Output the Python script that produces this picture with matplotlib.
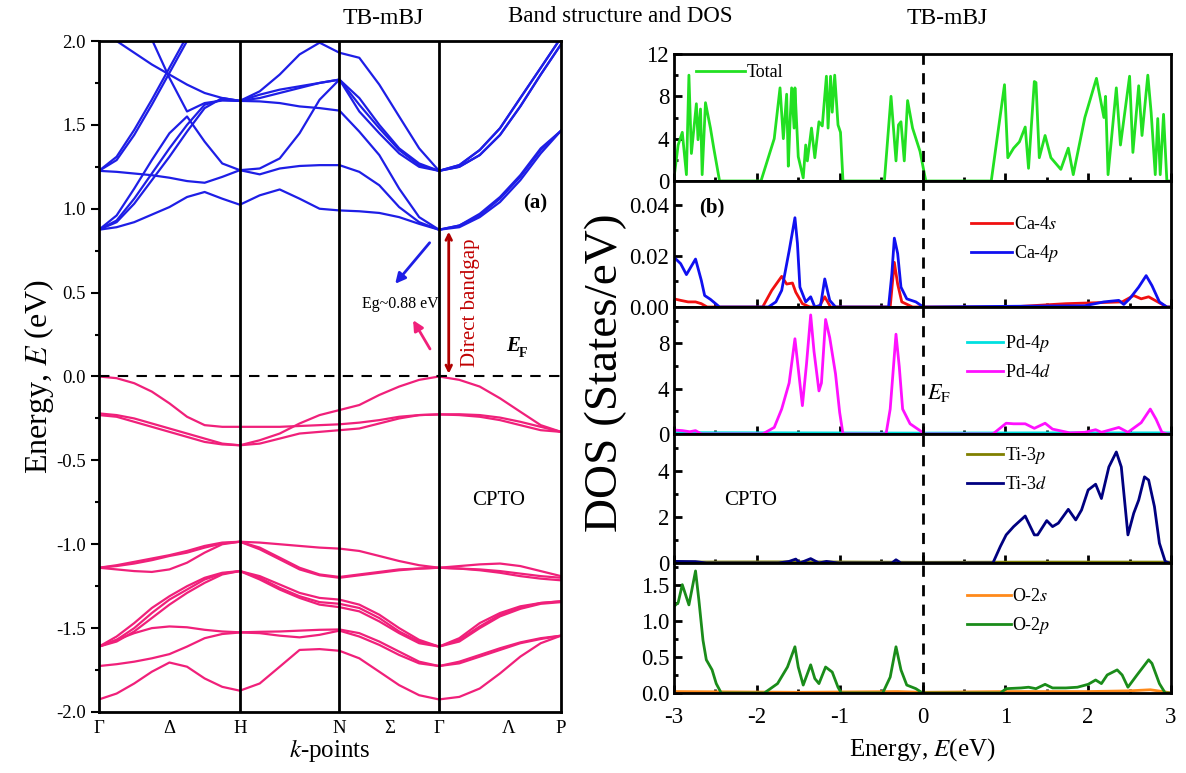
import matplotlib
matplotlib.use('Agg')
import matplotlib.pyplot as plt
from matplotlib.ticker import MultipleLocator, FormatStrFormatter

plt.rcParams['font.family'] = 'serif'
plt.rcParams['font.serif'] = ['Liberation Serif', 'DejaVu Serif']
plt.rcParams['mathtext.fontset'] = 'stix'
plt.rcParams['axes.unicode_minus'] = False

# ---------------- band structure data ----------------
k_nodes = [0.0, 1.0, 1.707, 2.414, 3.280]
k_labels = ['Γ', 'Δ', 'H', 'N', 'Σ', 'Γ', 'Λ', 'P']
k_label_pos = [0.0, 0.5, 1.0, 1.707, 2.066, 2.414, 2.91, 3.280]

k = [0.0, 0.125, 0.25, 0.375, 0.5, 0.625, 0.75, 0.875, 1.0,
     1.141, 1.283, 1.424, 1.566, 1.707,
     1.848, 1.990, 2.131, 2.273, 2.414,
     2.558, 2.703, 2.847, 2.991, 3.136, 3.280]

# conduction bands (eV)
cb1 = [0.875, 0.89, 0.92, 0.965, 1.01, 1.07, 1.10, 1.06, 1.024,
       1.08, 1.115, 1.06, 1.00, 0.99,
       0.985, 0.975, 0.95, 0.91, 0.875,
       0.90, 0.97, 1.07, 1.20, 1.36, 1.465]
cb2 = [0.875, 0.93, 1.06, 1.21, 1.36, 1.50, 1.62, 1.65, 1.643,
       1.64, 1.63, 1.61, 1.60, 1.585,
       1.46, 1.32, 1.12, 0.95, 0.875,
       0.89, 0.95, 1.04, 1.17, 1.33, 1.465]
cb3 = [0.875, 0.96, 1.12, 1.29, 1.45, 1.55, 1.40, 1.27, 1.23,
       1.205, 1.24, 1.255, 1.26, 1.26,
       1.22, 1.14, 1.01, 0.92, 0.875,
       0.90, 0.96, 1.06, 1.19, 1.35, 1.465]
cb4 = [1.226, 1.22, 1.21, 1.20, 1.185, 1.165, 1.155, 1.19, 1.23,
       1.24, 1.30, 1.45, 1.65, 1.77,
       1.58, 1.45, 1.33, 1.25, 1.226,
       1.26, 1.35, 1.48, 1.66, 1.84, 2.02]
cb5 = [0.875, 0.92, 1.03, 1.17, 1.31, 1.46, 1.60, 1.66, 1.643,
       1.68, 1.71, 1.73, 1.75, 1.77,
       1.62, 1.48, 1.35, 1.26, 1.226,
       1.25, 1.32, 1.44, 1.61, 1.80, 1.98]
cb6 = [2.70, 2.47, 2.24, 2.01, 1.78, 1.58, 1.63, 1.645, 1.643,
       1.66, 1.69, 1.72, 1.75, 1.77,
       1.66, 1.50, 1.36, 1.27, 1.226,
       1.26, 1.35, 1.48, 1.66, 1.84, 2.02]
cb7 = [2.08, 2.00, 1.93, 1.86, 1.80, 1.74, 1.69, 1.66, 1.643,
       1.70, 1.80, 1.92, 1.99, 1.93,
       1.90, 1.74, 1.55, 1.36, 1.226,
       1.25, 1.32, 1.44, 1.61, 1.80, 1.98]
cb8 = [1.226, 1.29, 1.44, 1.62, 1.81, 2.00, 2.20, 2.40, 2.50,
       2.50, 2.50, 2.50, 2.50, 2.50,
       2.50, 2.50, 2.50, 2.50, 2.50,
       2.50, 2.50, 2.50, 2.50, 2.50, 2.50]
cb9 = [1.226, 1.31, 1.47, 1.65, 1.84, 2.03, 2.25, 2.45, 2.55,
       2.55, 2.55, 2.55, 2.55, 2.55,
       2.55, 2.55, 2.55, 2.55, 2.55,
       2.55, 2.55, 2.55, 2.55, 2.55, 2.55]

# valence bands (eV)
vb1 = [0.0, -0.01, -0.04, -0.09, -0.16, -0.24, -0.29, -0.30, -0.30,
       -0.30, -0.30, -0.295, -0.29, -0.285,
       -0.275, -0.26, -0.24, -0.23, -0.226,
       -0.23, -0.24, -0.26, -0.29, -0.32, -0.33]
vb2 = [-0.22, -0.23, -0.25, -0.28, -0.31, -0.34, -0.37, -0.40, -0.41,
       -0.38, -0.34, -0.28, -0.23, -0.20,
       -0.17, -0.11, -0.06, -0.02, 0.0,
       -0.02, -0.06, -0.13, -0.21, -0.29, -0.33]
vb3 = [-0.23, -0.24, -0.27, -0.30, -0.33, -0.36, -0.39, -0.405, -0.41,
       -0.40, -0.37, -0.34, -0.33, -0.32,
       -0.31, -0.28, -0.25, -0.23, -0.226,
       -0.225, -0.23, -0.245, -0.27, -0.30, -0.33]
vb4 = [-1.14, -1.125, -1.105, -1.085, -1.065, -1.04, -1.01, -0.99, -0.985,
       -0.99, -1.0, -1.01, -1.02, -1.026,
       -1.04, -1.07, -1.10, -1.125, -1.14,
       -1.13, -1.12, -1.115, -1.13, -1.16, -1.19]
vb5 = [-1.14, -1.13, -1.115, -1.095, -1.07, -1.05, -1.02, -0.995, -0.985,
       -1.02, -1.08, -1.14, -1.18, -1.195,
       -1.18, -1.165, -1.15, -1.145, -1.14,
       -1.145, -1.15, -1.16, -1.175, -1.19, -1.20]
vb6 = [-1.14, -1.15, -1.16, -1.165, -1.15, -1.11, -1.05, -1.0, -0.985,
       -1.03, -1.09, -1.15, -1.185, -1.20,
       -1.185, -1.17, -1.155, -1.145, -1.14,
       -1.145, -1.155, -1.17, -1.19, -1.205, -1.215]
vb7 = [-1.61, -1.55, -1.47, -1.38, -1.31, -1.25, -1.20, -1.17, -1.16,
       -1.19, -1.24, -1.29, -1.32, -1.33,
       -1.36, -1.42, -1.50, -1.57, -1.61,
       -1.56, -1.47, -1.41, -1.37, -1.35, -1.34]
vb8 = [-1.61, -1.57, -1.50, -1.41, -1.33, -1.27, -1.21, -1.175, -1.16,
       -1.20, -1.26, -1.31, -1.345, -1.355,
       -1.38, -1.44, -1.52, -1.58, -1.61,
       -1.57, -1.49, -1.42, -1.38, -1.35, -1.34]
vb9 = [-1.61, -1.58, -1.52, -1.44, -1.36, -1.29, -1.23, -1.18, -1.16,
       -1.21, -1.27, -1.32, -1.36, -1.375,
       -1.40, -1.46, -1.53, -1.59, -1.61,
       -1.58, -1.50, -1.43, -1.385, -1.355, -1.345]
vb10 = [-1.61, -1.57, -1.53, -1.50, -1.49, -1.495, -1.51, -1.52, -1.525,
        -1.522, -1.52, -1.515, -1.51, -1.508,
        -1.53, -1.58, -1.64, -1.70, -1.726,
        -1.70, -1.66, -1.62, -1.585, -1.56, -1.545]
vb11 = [-1.726, -1.715, -1.70, -1.68, -1.655, -1.61, -1.56, -1.535, -1.526,
        -1.53, -1.545, -1.555, -1.54, -1.515,
        -1.55, -1.60, -1.66, -1.71, -1.726,
        -1.71, -1.67, -1.63, -1.59, -1.565, -1.545]
vb12 = [-1.925, -1.89, -1.83, -1.76, -1.705, -1.73, -1.80, -1.85, -1.873,
        -1.83, -1.73, -1.63, -1.625, -1.635,
        -1.68, -1.76, -1.84, -1.90, -1.925,
        -1.91, -1.86, -1.77, -1.67, -1.59, -1.545]

conduction = [cb1, cb2, cb3, cb4, cb5, cb6, cb7, cb8, cb9]
valence = [vb1, vb2, vb3, vb4, vb5, vb6, vb7, vb8, vb9, vb10, vb11, vb12]

# ---------------- DOS data ----------------
tot_e = [-3.0, -2.95, -2.90, -2.85, -2.82, -2.79, -2.73, -2.71, -2.68, -2.66, -2.62,
         -2.56, -2.52, -2.45,
         -1.95, -1.79, -1.72, -1.68, -1.64, -1.62, -1.60, -1.58, -1.55, -1.54, -1.50,
         -1.44, -1.41, -1.39, -1.34, -1.30, -1.25, -1.21, -1.16, -1.14, -1.11, -1.09,
         -1.06, -1.02, -0.99, -0.96,
         -0.46, -0.38, -0.32, -0.29, -0.26, -0.22, -0.18, -0.12, -0.03, 0.04,
         0.83, 0.99, 1.03, 1.10, 1.17, 1.24, 1.28, 1.35, 1.37, 1.41, 1.48, 1.55,
         1.67, 1.76, 1.82, 1.96, 2.10, 2.19, 2.21, 2.24, 2.34, 2.39, 2.50, 2.54,
         2.61, 2.65, 2.72, 2.76, 2.81, 2.84, 2.87, 2.91, 2.95, 3.0]
tot_v = [0.3, 3.4, 4.6, 0.6, 10.0, 2.6, 7.3, 3.9, 6.8, 0.6, 7.4,
         5.0, 3.1, 0.0,
         0.0, 4.0, 8.8, 4.0, 8.2, 1.4, 5.4, 8.8, 5.0, 8.8, 2.3,
         0.3, 3.4, 1.9, 5.0, 2.2, 5.6, 5.2, 9.9, 5.0, 9.9, 6.5,
         10.0, 5.3, 4.6, 0.0,
         0.0, 8.0, 1.9, 5.3, 5.6, 1.9, 7.6, 5.0, 2.8, 0.0,
         0.0, 9.1, 2.2, 3.1, 3.7, 5.1, 1.2, 9.4, 9.3, 2.2, 4.3, 2.2,
         1.1, 3.1, 0.6, 6.0, 9.7, 6.0, 8.0, 0.6, 8.8, 3.4, 9.9, 2.7,
         9.0, 4.3, 10.0, 6.5, 0.6, 5.9, 0.6, 6.3, 0.0, 0.0]

ca4p_e = [-3.0, -2.92, -2.85, -2.74, -2.67, -2.63, -2.56, -2.45, -1.86, -1.77, -1.70,
          -1.61, -1.54, -1.51, -1.48, -1.41, -1.35, -1.30, -1.23, -1.18, -1.12, -1.05,
          -0.41, -0.37, -0.34, -0.30, -0.26, -0.19, -0.08, 0.01, 1.96, 2.19, 2.37,
          2.43, 2.50, 2.61, 2.70, 2.77, 2.86, 2.95, 3.0]
ca4p_v = [0.0195, 0.017, 0.0127, 0.0188, 0.0104, 0.0045, 0.003, 0.0, 0.0, 0.002, 0.0065,
          0.022, 0.035, 0.025, 0.0078, 0.002, 0.004, 0.0, 0.0007, 0.011, 0.0026, 0.0,
          0.0, 0.013, 0.027, 0.021, 0.0078, 0.0032, 0.002, 0.0, 0.0005, 0.002, 0.0026,
          0.001, 0.0032, 0.0078, 0.0123, 0.0084, 0.002, 0.0, 0.0]
ca4s_e = [-3.0, -2.92, -2.83, -2.74, -2.67, -2.60, -1.93, -1.82, -1.70, -1.64, -1.57,
          -1.53, -1.45, -1.36, -1.25, -1.18, -1.11, -0.39, -0.34, -0.30, -0.25, -0.12,
          1.06, 1.73, 2.41, 2.55, 2.64, 2.73, 2.84, 2.95, 3.0]
ca4s_v = [0.0032, 0.0026, 0.002, 0.002, 0.0013, 0.0, 0.0, 0.0065, 0.012, 0.009, 0.0094,
          0.0058, 0.0013, 0.0, 0.0, 0.004, 0.0, 0.0, 0.0175, 0.009, 0.002, 0.0,
          0.0, 0.0013, 0.002, 0.0045, 0.0032, 0.004, 0.002, 0.0, 0.0]

pd4d_e = [-3.0, -2.90, -2.81, -2.74, -2.67, -1.93, -1.79, -1.70, -1.61, -1.54, -1.45,
          -1.40, -1.35, -1.31, -1.25, -1.22, -1.17, -1.12, -1.05, -1.00, -0.96,
          -0.44, -0.39, -0.32, -0.28, -0.24, -0.15, -0.03, 0.02, 0.85, 1.01, 1.10,
          1.24, 1.35, 1.48, 1.57, 1.78, 1.96, 2.09, 2.16, 2.37, 2.48, 2.64, 2.75,
          2.82, 2.89, 2.95, 3.0]
pd4d_v = [0.35, 0.3, 0.2, 0.3, 0.0, 0.0, 0.58, 2.2, 4.5, 8.4, 2.5,
          6.2, 10.5, 7.3, 3.8, 4.5, 10.1, 8.5, 5.3, 1.9, 0.0,
          0.0, 2.2, 8.8, 5.9, 2.2, 0.9, 0.3, 0.0, 0.0, 0.95, 0.9,
          0.9, 0.5, 0.95, 0.43, 0.1, 0.15, 0.38, 0.15, 0.58, 0.15, 1.0, 2.2,
          1.3, 0.15, 0.0, 0.0]
pd4p_e = [-3.0, -1.5, 0.0, 1.5, 3.0]
pd4p_v = [0.12, 0.1, 0.08, 0.1, 0.1]

ti3d_e = [-3.0, -2.74, -2.61, -1.74, -1.61, -1.53, -1.48, -1.35, -1.25, -1.16, -1.02,
          -0.37, -0.32, -0.26, 0.85, 0.94, 1.01, 1.10, 1.24, 1.35, 1.39, 1.50, 1.57,
          1.64, 1.76, 1.85, 1.92, 2.0, 2.09, 2.16, 2.25, 2.34, 2.40, 2.48, 2.55,
          2.61, 2.68, 2.73, 2.80, 2.86, 2.93, 2.98]
ti3d_v = [0.07, 0.06, 0.0, 0.0, 0.07, 0.17, 0.0, 0.19, 0.0, 0.07, 0.0,
          0.0, 0.14, 0.0, 0.0, 0.72, 1.22, 1.58, 2.04, 1.22, 1.22, 1.84, 1.58,
          1.73, 2.33, 1.87, 2.3, 3.17, 3.42, 2.8, 4.17, 4.82, 4.17, 1.22, 2.16,
          2.73, 3.74, 3.6, 2.45, 0.86, 0.07, 0.0]
ti3p_e = [-3.0, -1.5, 0.0, 1.5, 3.0]
ti3p_v = [0.04, 0.05, 0.03, 0.04, 0.04]

o2p_e = [-3.0, -2.95, -2.90, -2.82, -2.74, -2.70, -2.65, -2.61, -2.54, -2.49, -2.43,
         -1.91, -1.75, -1.63, -1.54, -1.50, -1.44, -1.35, -1.30, -1.25, -1.17, -1.09,
         -1.02, -0.98, -0.48, -0.39, -0.32, -0.26, -0.19, -0.08, 0.0, 0.94, 1.01,
         1.19, 1.28, 1.37, 1.48, 1.57, 1.73, 1.87, 2.0, 2.09, 2.16, 2.23, 2.35,
         2.41, 2.48, 2.59, 2.73, 2.77, 2.86, 2.93, 3.0]
o2p_v = [1.2, 1.25, 1.5, 1.22, 1.69, 1.29, 0.73, 0.46, 0.32, 0.13, 0.0,
         0.0, 0.13, 0.36, 0.64, 0.36, 0.11, 0.39, 0.2, 0.13, 0.36, 0.29,
         0.08, 0.0, 0.0, 0.22, 0.64, 0.32, 0.11, 0.06, 0.0, 0.0, 0.06,
         0.07, 0.08, 0.06, 0.12, 0.07, 0.07, 0.08, 0.12, 0.18, 0.13, 0.25, 0.32,
         0.25, 0.08, 0.25, 0.46, 0.41, 0.13, 0.0, 0.0]
o2s_e = [-3.0, -1.5, -0.3, 0.0, 1.0, 2.0, 2.5, 2.75, 2.9, 3.0]
o2s_v = [0.02, 0.01, 0.02, 0.01, 0.02, 0.02, 0.03, 0.045, 0.02, 0.0]

W, H = 1186, 773
fig = plt.figure(figsize=(W / 100, H / 100), dpi=100)


def box(x0, y0, x1, y1):
    # pixel box -> figure fraction
    return [x0 / W, 1 - y1 / H, (x1 - x0) / W, (y1 - y0) / H]


blue = '#1E1EE6'
pink = '#F0207A'

# ---------------- (a) band structure ----------------
ax = fig.add_axes(box(99, 41, 561, 712))
for band in conduction:
    ax.plot(k, band, color=blue, lw=1.6)
for band in valence:
    ax.plot(k, band, color=pink, lw=1.6)
for kn in k_nodes[1:-1]:
    ax.axvline(kn, color='black', lw=2)
ax.axhline(0, color='black', lw=1.5, ls=(0, (5, 4)))
ax.set_xlim(k_nodes[0], k_nodes[-1])
ax.set_ylim(-2, 2)
ax.set_xticks(k_label_pos)
ax.set_xticklabels(k_labels, fontsize=13.5)
ax.tick_params(axis='x', length=0, pad=6)
ax.yaxis.set_major_locator(MultipleLocator(0.5))
ax.yaxis.set_minor_locator(MultipleLocator(0.25))
ax.yaxis.set_major_formatter(FormatStrFormatter('%.1f'))
ax.tick_params(axis='y', which='major', direction='out', length=6, width=1.5, labelsize=13.5)
ax.tick_params(axis='y', which='minor', direction='out', length=3, width=1.5)
for s in ax.spines.values():
    s.set_linewidth(2)
ax.set_ylabel(r'Energy, $E$ (eV)', fontsize=23, labelpad=0)
ax.set_xlabel(r'$k$-points', fontsize=18, labelpad=0)

ax.annotate('', xy=(2.483, 0.88), xytext=(2.483, 0.0),
            arrowprops=dict(arrowstyle='<->', color='#B00000', lw=2))
ax.text(2.64, 0.44, 'Direct bandgap', rotation=90, color='#C00000',
        fontsize=15, ha='center', va='center')
ax.annotate('', xy=(2.09, 0.54), xytext=(2.36, 0.81),
            arrowprops=dict(arrowstyle='-|>', color=blue, lw=2, mutation_scale=15))
ax.annotate('', xy=(2.22, 0.35), xytext=(2.36, 0.15),
            arrowprops=dict(arrowstyle='-|>', color=pink, lw=2, mutation_scale=15))
ax.text(2.14, 0.43, 'Eg~0.88 eV', fontsize=11.5, ha='center', va='center')
ax.text(3.10, 1.03, '(a)', fontsize=15, fontweight='bold', ha='center', va='center')
ax.text(2.94, 0.18, 'E', fontsize=15, fontweight='bold', fontstyle='italic',
        ha='center', va='center')
ax.text(3.01, 0.14, 'F', fontsize=10, fontweight='bold', ha='center', va='center')
ax.text(2.84, -0.74, 'CPTO', fontsize=15, ha='center', va='center')

fig.text(383 / W, 1 - 18 / H, 'TB-mBJ', fontsize=17, ha='center', va='center')
fig.text(620 / W, 1 - 16 / H, 'Band structure and DOS', fontsize=16.5, ha='center', va='center')
fig.text(947 / W, 1 - 18 / H, 'TB-mBJ', fontsize=17, ha='center', va='center')

# ---------------- (b) DOS panels ----------------
edges = [54, 181, 307, 434, 563, 693]
panels = [
    dict(curves=[(tot_e, tot_v, '#22E022', 'Total')], ylim=12, major=4, minor=2,
         fmt='%d', leg=(0.045, 0.84), hl=2.7),
    dict(curves=[(ca4s_e, ca4s_v, '#F01010', r'Ca-4$s$'), (ca4p_e, ca4p_v, '#1010F0', r'Ca-4$p$')],
         ylim=0.0494, major=0.02, minor=0.01, fmt='%.2f', leg=(0.597, 0.643), hl=2.3),
    dict(curves=[(pd4p_e, pd4p_v, '#00E0E0', r'Pd-4$p$'), (pd4d_e, pd4d_v, '#FF10FF', r'Pd-4$d$')],
         ylim=11.2, major=4, minor=2, fmt='%d', leg=(0.59, 0.714), hl=2.0),
    dict(curves=[(ti3p_e, ti3p_v, '#808000', r'Ti-3$p$'), (ti3d_e, ti3d_v, '#000080', r'Ti-3$d$')],
         ylim=5.6, major=2, minor=1, fmt='%d', leg=(0.59, 0.835), hl=2.0),
    dict(curves=[(o2s_e, o2s_v, '#FF8A1A', r'O-2$s$'), (o2p_e, o2p_v, '#1A8C1A', r'O-2$p$')],
         ylim=1.8, major=0.5, minor=0.25, fmt='%.1f', leg=(0.59, 0.725), hl=2.4),
]
dos_axes = []
for i, p in enumerate(panels):
    a = fig.add_axes(box(674, edges[i], 1171, edges[i + 1]))
    dos_axes.append(a)
    for e, v, c, lab in p['curves']:
        a.plot(e, v, color=c, lw=2, label=lab)
    a.axvline(0, color='black', lw=2, ls=(0, (4, 3)))
    a.set_xlim(-3, 3)
    a.set_ylim(0, p['ylim'])
    a.yaxis.set_major_locator(MultipleLocator(p['major']))
    a.yaxis.set_minor_locator(MultipleLocator(p['minor']))
    a.yaxis.set_major_formatter(FormatStrFormatter(p['fmt']))
    a.xaxis.set_major_locator(MultipleLocator(1))
    a.xaxis.set_minor_locator(MultipleLocator(0.5))
    a.tick_params(which='major', direction='in', length=6, width=2, labelsize=16.5)
    a.tick_params(which='minor', direction='in', length=3, width=2)
    a.tick_params(axis='x', pad=10)
    if i < len(panels) - 1:
        a.tick_params(axis='x', labelbottom=False)
    for s in a.spines.values():
        s.set_linewidth(2)
    lx, ly = p['leg']
    a.legend(loc='upper left', bbox_to_anchor=(lx, ly + 0.08), frameon=False,
             fontsize=13, handlelength=p['hl'], handletextpad=0.1, borderpad=0,
             borderaxespad=0, labelspacing=0.55)

dos_axes[-1].set_xlabel(r'Energy, $E$(eV)', fontsize=18, labelpad=6)
dos_axes[1].text(-2.54, 0.039, '(b)', fontsize=15, fontweight='bold', ha='center', va='center')
dos_axes[2].text(0.05, 3.6, r'$E_{\rm F}$', fontsize=16, ha='left', va='center')
dos_axes[3].text(-2.08, 2.7, 'CPTO', fontsize=15, ha='center', va='center')
fig.text(606 / W, 1 - 373 / H, 'DOS (States/eV)', fontsize=34, rotation=90,
         ha='center', va='center')

fig.savefig('out.png', dpi=100)
